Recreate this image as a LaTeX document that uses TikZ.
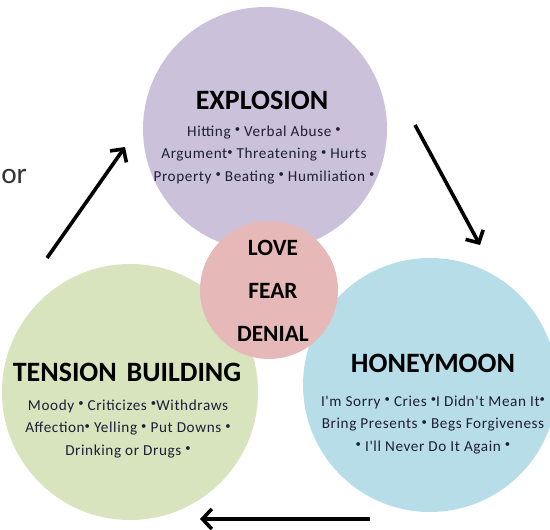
\documentclass[tikz,border=0pt]{standalone}
\usepackage{fontspec}
\setmainfont{Carlito}
\newfontfamily\bodyfont[LetterSpace=4]{Carlito}
\usepackage{xcolor}
\usetikzlibrary{arrows.meta}

\definecolor{explodefill}{HTML}{CCC1DA}
\definecolor{tensionfill}{HTML}{D7E4BD}
\definecolor{honeyfill}{HTML}{B7DEE8}
\definecolor{corefill}{HTML}{E6B9B8}
\definecolor{bodytext}{HTML}{1E1E36}

% raised bullet between the behaviours
\newcommand{\sep}{\raisebox{0.5ex}{\fontsize{8}{8}\selectfont\textbullet}}

\begin{document}
\begin{tikzpicture}[x=0.75pt,y=-0.75pt,
  phase/.style={circle,inner sep=0pt,minimum size=#1},
  title/.style={font=\fontsize{21}{25}\selectfont\bfseries,text=black},
  detail/.style={font=\bodyfont\fontsize{11.4}{16.9}\selectfont,text=bodytext,align=center},
  cycle/.style={line width=2.7pt,-{Straight Barb[length=7pt,width=15pt]}}]

  \useasboundingbox (0,0) rectangle (550,529);

  % The three phases of the cycle
  \node[phase=183pt,fill=explodefill] (explosion) at (265,129) {};
  \node[phase=192pt,fill=tensionfill] (tension) at (130,392) {};
  \node[phase=190.5pt,fill=honeyfill] (honeymoon) at (430,385) {};

  % The centre circle sits on top of the others
  \node[phase=103.5pt,fill=corefill] (core) at (269,290) {};
  \node[font=\fontsize{17.5}{32}\selectfont\bfseries,align=center] (coretext) at (273,291)
    {LOVE\\FEAR\\DENIAL};

  % Titles
  \node[title] (explodetitle) at (262,100) {EXPLOSION};
  \node[title] (tensiontitle) at (127,372) {TENSION\hspace{0.12em} BUILDING};
  \node[title] (honeytitle) at (433,363) {HONEYMOON};

  % Behaviours of each phase
  \node[detail] (explodetext) at (264,155)
    {Hitting \sep{} Verbal Abuse \sep\\Argument\sep{} Threatening \sep{} Hurts\\Property \sep{} Beating \sep{} Humiliation \sep};
  \node[detail] (tensiontext) at (128,429)
    {Moody \sep{} Criticizes \sep Withdraws\\Affection\sep{} Yelling \sep{} Put Downs \sep\\Drinking or Drugs \sep};
  \node[detail] (honeytext) at (433,425)
    {I'm Sorry \sep{} Cries \sep I Didn't Mean It\sep\\Bring Presents \sep{} Begs Forgiveness\\\sep{} I'll Never Do It Again \sep};

  % Word at the left edge
  \node[anchor=west,font=\fontsize{22}{26}\selectfont,text=black!80,inner sep=0pt] (leftword) at (1,176) {or};

  % Arrows of the cycle
  \coordinate (buildtail) at (47,258);
  \coordinate (buildtip) at (125,147);
  \coordinate (explodetail) at (415,125);
  \coordinate (explodetip) at (480,245);
  \coordinate (calmtail) at (370,519);
  \coordinate (calmtip) at (200,519);
  \draw[cycle] (buildtail) -- (buildtip);
  \draw[cycle] (explodetail) -- (explodetip);
  \draw[cycle] (calmtail) -- (calmtip);
\end{tikzpicture}
\end{document}
